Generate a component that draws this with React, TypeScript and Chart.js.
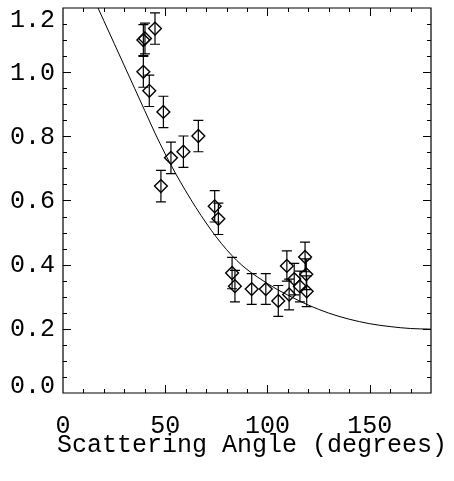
import React, { useEffect, useRef } from 'react';
import { Chart, registerables } from 'chart.js';

Chart.register(...registerables);

const FONT = '"Liberation Mono", "DejaVu Sans Mono", monospace';

// Measured points (scattering angle in degrees, ratio) with 1-sigma errors
const angles = [39.3, 40.1, 45.0, 39.3, 42.2, 49.1, 47.9, 52.8, 58.9, 66.2, 74.2, 76.0, 82.7, 84.1, 92.3, 99.2, 105.3, 109.5, 110.6, 113.1, 115.9, 118.4, 119.0, 119.2];
const ratios = [1.100, 1.105, 1.136, 1.001, 0.942, 0.876, 0.645, 0.733, 0.752, 0.801, 0.582, 0.543, 0.374, 0.333, 0.324, 0.324, 0.287, 0.396, 0.307, 0.355, 0.332, 0.424, 0.370, 0.317];
const ratioErrors = [0.048, 0.048, 0.049, 0.048, 0.049, 0.049, 0.049, 0.049, 0.049, 0.049, 0.049, 0.049, 0.049, 0.049, 0.048, 0.048, 0.048, 0.047, 0.048, 0.049, 0.048, 0.046, 0.048, 0.048];

// Model curve
const curveAngles = [16, 20, 25, 30, 35, 40, 45, 50, 55, 60, 65, 70, 75, 80, 85, 90, 95, 100, 105, 110, 115, 120, 130, 140, 150, 160, 170, 180];
const curveValues = [1.216, 1.160, 1.090, 1.020, 0.950, 0.880, 0.810, 0.745, 0.685, 0.630, 0.578, 0.530, 0.486, 0.447, 0.413, 0.385, 0.362, 0.341, 0.322, 0.305, 0.289, 0.274, 0.249, 0.230, 0.216, 0.207, 0.201, 0.199];

const xTickValues = [0, 50, 100, 150];
const yTickLabels = ['0.0', '0.2', '0.4', '0.6', '0.8', '1.0', '1.2'];
const xTitle = 'Scattering Angle (degrees)';

const frameAndErrors = {
  id: 'frameAndErrors',
  afterDatasetsDraw(chart: any) {
    const { ctx, chartArea: a, scales } = chart;
    const x = scales.x;
    const y = scales.y;
    ctx.save();
    ctx.strokeStyle = '#000';
    ctx.lineWidth = 1.2;
    // error bars
    ctx.beginPath();
    angles.forEach((ang, i) => {
      const px = x.getPixelForValue(ang);
      const hi = y.getPixelForValue(ratios[i] + ratioErrors[i]);
      const lo = y.getPixelForValue(ratios[i] - ratioErrors[i]);
      ctx.moveTo(px, hi);
      ctx.lineTo(px, lo);
      ctx.moveTo(px - 5, hi);
      ctx.lineTo(px + 5, hi);
      ctx.moveTo(px - 5, lo);
      ctx.lineTo(px + 5, lo);
    });
    ctx.stroke();

    // frame
    ctx.beginPath();
    ctx.rect(a.left, a.top, a.right - a.left, a.bottom - a.top);
    ctx.stroke();

    // ticks (inside, all four sides)
    ctx.lineWidth = 1;
    ctx.beginPath();
    for (let v = 10; v < 180; v += 10) {
      const px = Math.round(x.getPixelForValue(v)) + 0.5;
      const len = v % 50 === 0 ? 8 : 4;
      ctx.moveTo(px, a.bottom);
      ctx.lineTo(px, a.bottom - len);
      ctx.moveTo(px, a.top);
      ctx.lineTo(px, a.top + len);
    }
    for (let k = 1; k < 24; k++) {
      const py = Math.round(y.getPixelForValue(k * 0.05)) + 0.5;
      const len = k % 4 === 0 ? 8 : 4;
      ctx.moveTo(a.left, py);
      ctx.lineTo(a.left + len, py);
      ctx.moveTo(a.right, py);
      ctx.lineTo(a.right - len, py);
    }
    ctx.stroke();

    // y tick labels (kept inside the axis span, as in the original)
    ctx.fillStyle = '#000';
    ctx.font = `25px ${FONT}`;
    ctx.textAlign = 'right';
    ctx.textBaseline = 'middle';
    yTickLabels.forEach((lbl) => {
      let py = y.getPixelForValue(parseFloat(lbl)) + 1;
      py = Math.min(Math.max(py, a.top + 12), a.bottom - 7);
      ctx.fillText(lbl, a.left - 8, py);
    });

    // x axis title (drawn without width compression)
    ctx.textAlign = 'center';
    ctx.textBaseline = 'alphabetic';
    ctx.fillText(xTitle, (a.left + a.right) / 2 + 5, 452);
    ctx.restore();
  },
};

export default function App() {
  const canvasRef = useRef<HTMLCanvasElement | null>(null);

  useEffect(() => {
    if (!canvasRef.current) return;
    const chart = new Chart(canvasRef.current, {
      type: 'scatter',
      data: {
        datasets: [
          {
            type: 'scatter',
            data: angles.map((a, i) => ({ x: a, y: ratios[i] })),
            pointStyle: 'rectRot',
            pointRadius: 6.4,
            borderColor: '#000',
            backgroundColor: 'rgba(0,0,0,0)',
            borderWidth: 1.4,
          } as any,
          {
            type: 'line',
            data: curveAngles.map((a, i) => ({ x: a, y: curveValues[i] })),
            borderColor: '#000',
            borderWidth: 1,
            pointRadius: 0,
            fill: false,
            cubicInterpolationMode: 'monotone',
          } as any,
        ],
      },
      options: {
        animation: false,
        responsive: true,
        maintainAspectRatio: false,
        layout: { padding: { top: 8, right: 23, left: 0, bottom: 0 } },
        plugins: { legend: { display: false }, tooltip: { enabled: false } },
        scales: {
          x: {
            type: 'linear',
            min: 0,
            max: 180,
            grid: { display: false, drawTicks: false },
            border: { display: false },
            afterBuildTicks: (scale: any) => {
              scale.ticks = xTickValues.map((v) => ({ value: v }));
            },
            afterFit: (scale: any) => {
              scale.height = 88;
              scale.paddingLeft = 0;
              scale.paddingRight = 0;
              scale.paddingTop = 0;
              scale.paddingBottom = 0;
            },
            ticks: {
              autoSkip: false,
              maxRotation: 0,
              padding: 18,
              color: '#000',
              font: { family: FONT, size: 25 },
            },
            title: { display: false },
          },
          y: {
            type: 'linear',
            min: 0,
            max: 1.2,
            grid: { display: false, drawTicks: false },
            border: { display: false },
            ticks: { display: false },
            afterFit: (scale: any) => {
              scale.width = 63;
              scale.paddingLeft = 0;
              scale.paddingRight = 0;
              scale.paddingTop = 0;
              scale.paddingBottom = 0;
            },
          },
        },
      },
      plugins: [frameAndErrors],
    });
    return () => chart.destroy();
  }, []);

  return (
    <div style={{ position: 'fixed', left: 0, top: 0, width: 454, height: 481, background: '#fff' }}>
      <canvas ref={canvasRef} />
    </div>
  );
}
